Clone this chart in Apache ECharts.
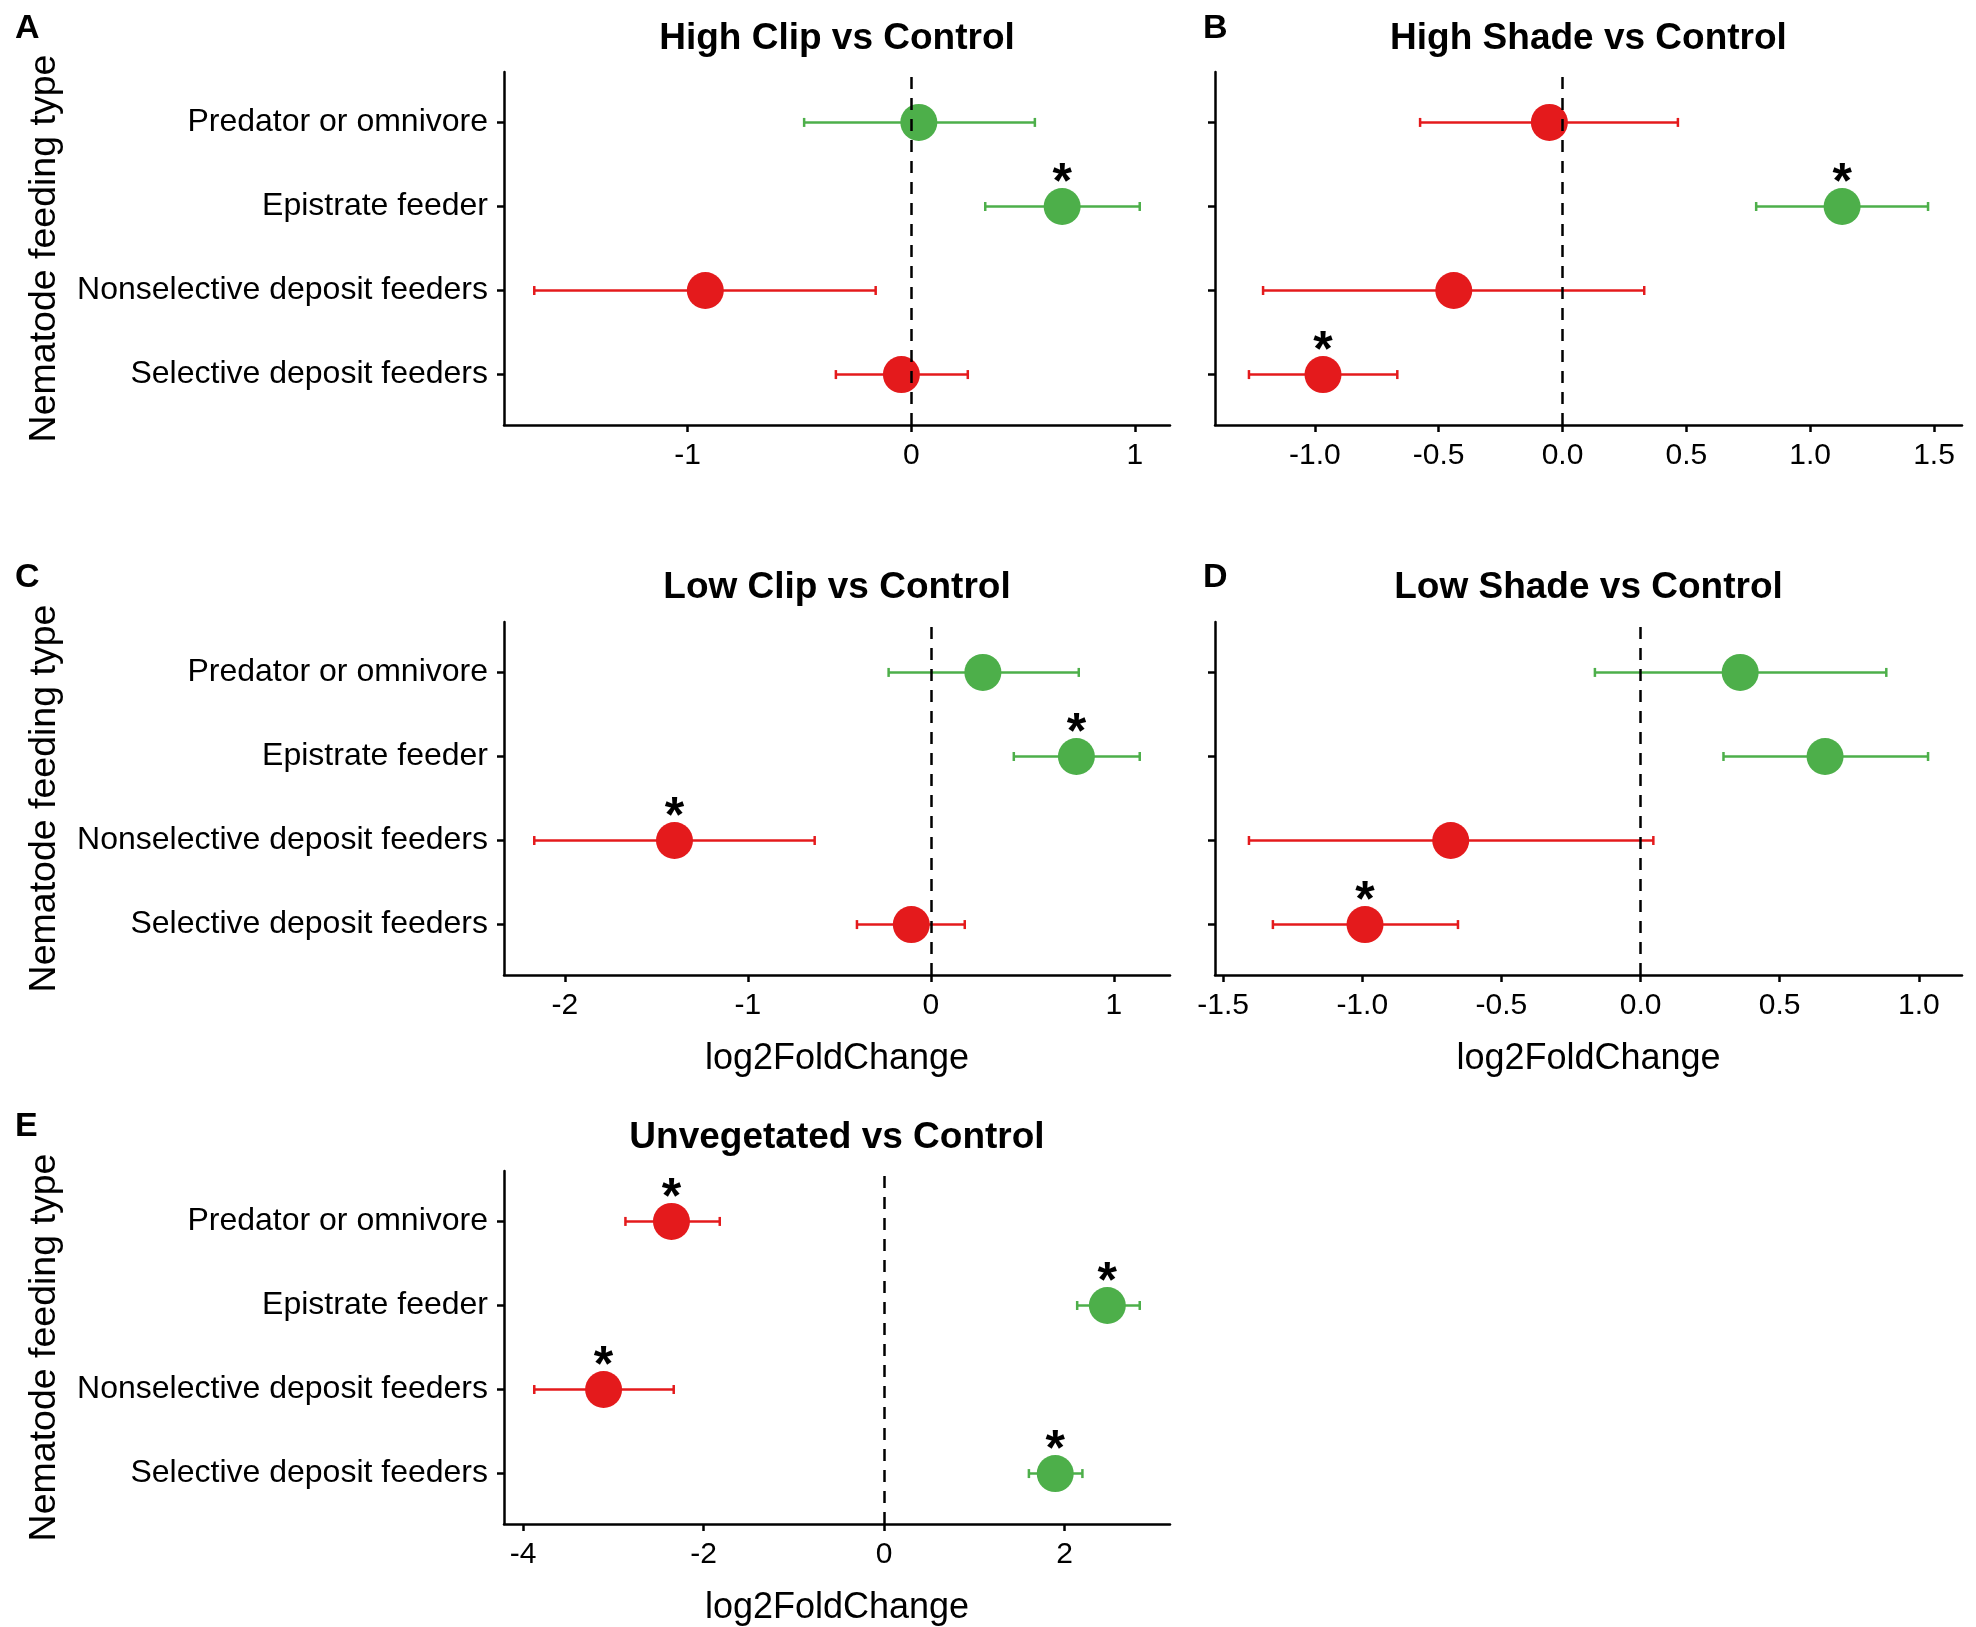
<!DOCTYPE html>
<html>
<head>
<meta charset="utf-8">
<script src="https://cdn.jsdelivr.net/npm/echarts@6/dist/echarts.min.js"></script>
<style>
  html, body { margin: 0; padding: 0; background: #ffffff; }
  #chart { width: 1976px; height: 1627px; }
</style>
</head>
<body>
<div id="chart"></div>
<script>
// Feeding types, listed bottom row first
const feedingTypes = ['Selective deposit feeders', 'Nonselective deposit feeders', 'Epistrate feeder', 'Predator or omnivore'];

// log2 fold change, 95% interval bounds and significance flags (same row order)
const highClipEst  = [-0.044, -0.921, 0.675, 0.034];
const highClipLow  = [-0.337, -1.686, 0.331, -0.479];
const highClipHigh = [0.253, -0.159, 1.022, 0.553];
const highClipSig  = [false, false, true, false];

const highShadeEst  = [-0.967, -0.439, 1.129, -0.053];
const highShadeLow  = [-1.266, -1.209, 0.782, -0.575];
const highShadeHigh = [-0.667, 0.330, 1.476, 0.466];
const highShadeSig  = [true, false, true, false];

const lowClipEst  = [-0.107, -1.401, 0.795, 0.284];
const lowClipLow  = [-0.404, -2.167, 0.453, -0.231];
const lowClipHigh = [0.185, -0.635, 1.141, 0.808];
const lowClipSig  = [false, true, true, false];

const lowShadeEst  = [-0.990, -0.682, 0.663, 0.358];
const lowShadeLow  = [-1.321, -1.407, 0.298, -0.164];
const lowShadeHigh = [-0.656, 0.046, 1.033, 0.883];
const lowShadeSig  = [true, false, false, false];

const unvegEst  = [1.896, -3.108, 2.473, -2.356];
const unvegLow  = [1.604, -3.876, 2.139, -2.866];
const unvegHigh = [2.197, -2.331, 2.832, -1.821];
const unvegSig  = [true, true, true, true];

// x-axis tick values and their printed labels
const highClipTicks = [-1, 0, 1];
const highClipTickLabels = ['-1', '0', '1'];
const highShadeTicks = [-1, -0.5, 0, 0.5, 1, 1.5];
const highShadeTickLabels = ['-1.0', '-0.5', '0.0', '0.5', '1.0', '1.5'];
const lowClipTicks = [-2, -1, 0, 1];
const lowClipTickLabels = ['-2', '-1', '0', '1'];
const lowShadeTicks = [-1.5, -1, -0.5, 0, 0.5, 1];
const lowShadeTickLabels = ['-1.5', '-1.0', '-0.5', '0.0', '0.5', '1.0'];
const unvegTicks = [-4, -2, 0, 2];
const unvegTickLabels = ['-4', '-2', '0', '2'];

const panelTitles = ['High Clip vs Control', 'High Shade vs Control', 'Low Clip vs Control', 'Low Shade vs Control', 'Unvegetated vs Control'];
const panelLetters = ['A', 'B', 'C', 'D', 'E'];
const xAxisTitle = 'log2FoldChange';
const yAxisTitle = 'Nematode feeding type';

const GREEN = '#4DAF4A';
const RED = '#E41A1C';
const FONT = '"Liberation Sans", Arial, Helvetica, sans-serif';

const panelData = [
  { est: highClipEst, low: highClipLow, high: highClipHigh, sig: highClipSig, ticks: highClipTicks, tickLabels: highClipTickLabels },
  { est: highShadeEst, low: highShadeLow, high: highShadeHigh, sig: highShadeSig, ticks: highShadeTicks, tickLabels: highShadeTickLabels },
  { est: lowClipEst, low: lowClipLow, high: lowClipHigh, sig: lowClipSig, ticks: lowClipTicks, tickLabels: lowClipTickLabels },
  { est: lowShadeEst, low: lowShadeLow, high: lowShadeHigh, sig: lowShadeSig, ticks: lowShadeTicks, tickLabels: lowShadeTickLabels },
  { est: unvegEst, low: unvegLow, high: unvegHigh, sig: unvegSig, ticks: unvegTicks, tickLabels: unvegTickLabels }
];

// Panel geometry (pixels)
const panelLayout = [
  { left: 504, top: 72, width: 666, height: 353, showY: true, showXName: false, letterX: 15, titleY: 39, letterY: 29 },
  { left: 1215, top: 72, width: 747, height: 353, showY: false, showXName: false, letterX: 1203, titleY: 39, letterY: 29 },
  { left: 504, top: 622, width: 666, height: 353, showY: true, showXName: true, letterX: 15, titleY: 588, letterY: 578 },
  { left: 1215, top: 622, width: 747, height: 353, showY: false, showXName: true, letterX: 1203, titleY: 588, letterY: 578 },
  { left: 504, top: 1171, width: 666, height: 353, showY: true, showXName: true, letterX: 15, titleY: 1138, letterY: 1127 }
];

const grids = [], xAxes = [], yAxes = [], series = [], graphics = [];

panelData.forEach((d, p) => {
  const L = panelLayout[p];
  grids.push({ left: L.left, top: L.top, width: L.width, height: L.height, containLabel: false });

  // continuous scale padded by 5% of the data range on each side
  const lo = Math.min(...d.low), hi = Math.max(...d.high);
  const pad = (hi - lo) * 0.05;

  xAxes.push({
    type: 'value', gridIndex: p, min: lo - pad, max: hi + pad,
    splitLine: { show: false },
    axisLine: { show: true, onZero: false, lineStyle: { color: '#000', width: 2.5 } },
    axisTick: { show: true, customValues: d.ticks, length: 7, lineStyle: { color: '#000', width: 2.5 } },
    axisLabel: {
      show: true, customValues: d.ticks, margin: 16,
      formatter: (v) => d.tickLabels[d.ticks.indexOf(v)],
      color: '#000', fontFamily: FONT, fontSize: 30
    },
    name: L.showXName ? xAxisTitle : '', nameLocation: 'middle', nameGap: 66,
    nameTextStyle: { color: '#000', fontFamily: FONT, fontSize: 36 }
  });

  yAxes.push({
    type: 'value', gridIndex: p, min: -0.6, max: 3.6,
    splitLine: { show: false },
    axisLine: { show: true, onZero: false, lineStyle: { color: '#000', width: 2.5 } },
    axisTick: { show: true, customValues: [0, 1, 2, 3], length: 7, lineStyle: { color: '#000', width: 2.5 } },
    axisLabel: {
      show: L.showY, customValues: [0, 1, 2, 3], margin: 16,
      formatter: (v) => feedingTypes[v],
      color: '#000', fontFamily: FONT, fontSize: 32, padding: [3, 0, 0, 0]
    },
    name: L.showY ? yAxisTitle : '', nameLocation: 'middle', nameGap: 440, nameRotate: 90,
    nameTextStyle: { color: '#000', fontFamily: FONT, fontSize: 37.5 }
  });

  // horizontal interval bars with end caps
  series.push({
    type: 'custom', xAxisIndex: p, yAxisIndex: p, z: 2,
    data: feedingTypes.map((c, i) => [d.low[i], d.high[i], i, d.est[i]]),
    encode: { x: [0, 1], y: 2 },
    renderItem: (params, api) => {
      const a = api.coord([api.value(0), api.value(2)]);
      const b = api.coord([api.value(1), api.value(2)]);
      const col = api.value(3) >= 0 ? GREEN : RED;
      const cap = 4.5;
      const st = { stroke: col, lineWidth: 2.5 };
      return {
        type: 'group',
        children: [
          { type: 'line', shape: { x1: a[0], y1: a[1], x2: b[0], y2: b[1] }, style: st },
          { type: 'line', shape: { x1: a[0], y1: a[1] - cap, x2: a[0], y2: a[1] + cap }, style: st },
          { type: 'line', shape: { x1: b[0], y1: b[1] - cap, x2: b[0], y2: b[1] + cap }, style: st }
        ]
      };
    }
  });

  // point estimates, asterisk above the significant ones
  series.push({
    type: 'scatter', xAxisIndex: p, yAxisIndex: p, z: 3,
    symbol: 'circle', symbolSize: 37,
    data: d.est.map((v, i) => ({
      value: [v, i],
      itemStyle: { color: v >= 0 ? GREEN : RED, opacity: 1 },
      label: {
        show: d.sig[i], formatter: '*', position: 'inside', offset: [0, -22],
        color: '#000', fontFamily: FONT, fontSize: 50, fontWeight: 'bold'
      }
    })),
    emphasis: { disabled: true }
  });

  // dashed reference line at zero
  series.push({
    type: 'scatter', xAxisIndex: p, yAxisIndex: p, z: 4, data: [],
    markLine: {
      silent: true, symbol: 'none', animation: false,
      label: { show: false },
      lineStyle: { color: '#000', width: 2.5, type: [12, 9] },
      data: [{ xAxis: 0 }]
    }
  });

  // panel title and letter
  graphics.push({
    type: 'text', x: L.left + L.width / 2, y: L.titleY,
    style: { text: panelTitles[p], fill: '#000', font: 'bold 37px ' + FONT, textAlign: 'center', textVerticalAlign: 'middle' }
  });
  graphics.push({
    type: 'text', x: L.letterX, y: L.letterY,
    style: { text: panelLetters[p], fill: '#000', font: 'bold 34px ' + FONT, textAlign: 'left', textVerticalAlign: 'middle' }
  });
});

const chart = echarts.init(document.getElementById('chart'), null, { renderer: 'canvas' });
chart.setOption({
  backgroundColor: '#ffffff',
  animation: false,
  grid: grids,
  xAxis: xAxes,
  yAxis: yAxes,
  series: series,
  graphic: graphics
});
</script>
</body>
</html>
